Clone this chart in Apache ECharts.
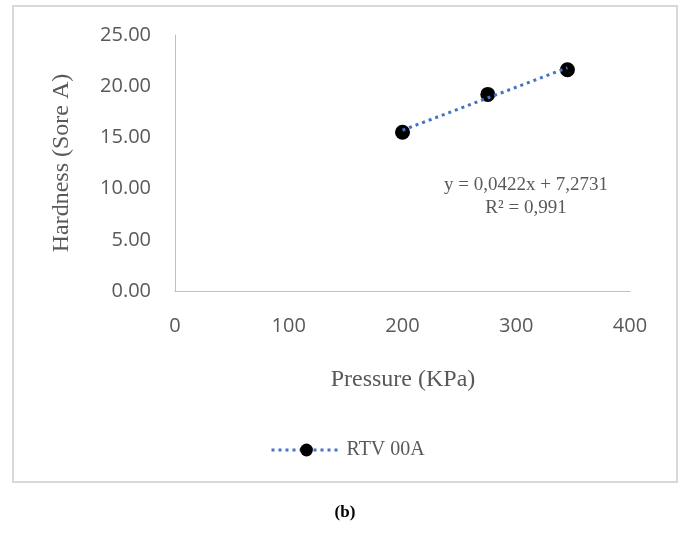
<!DOCTYPE html>
<html>
<head>
<meta charset="utf-8">
<script src="https://cdn.jsdelivr.net/npm/echarts@6/dist/echarts.min.js"></script>
<style>
  html, body { margin: 0; padding: 0; background: #fff; }
  #chart { width: 681px; height: 538px; }
</style>
</head>
<body>
<div id="chart"></div>
<script>
// measured points
var pressure = [200, 275, 345];
var hardness = [15.5, 19.2, 21.6];
// linear trendline end points
var trendX = [200, 345];
var trendY = [15.7, 21.8];
var seriesName = 'RTV 00A';
var equationLines = ['y = 0,0422x + 7,2731', 'R\u00b2 = 0,991'];

var gray = '#595959';
var blue = '#4472C4';

var myChart = echarts.init(document.getElementById('chart'));

var option = {
  animation: false,
  grid: { left: 175, top: 35, right: 51, bottom: 247 },
  xAxis: {
    type: 'value',
    min: 0, max: 400, interval: 100,
    axisLine: { show: true, lineStyle: { color: '#bfbfbf', width: 1 } },
    axisTick: { show: false },
    splitLine: { show: false },
    axisLabel: { margin: 25, color: gray, fontSize: 20, fontFamily: 'Open Sans' }
  },
  yAxis: {
    type: 'value',
    min: 0, max: 25, interval: 5,
    axisLine: { show: true, lineStyle: { color: '#bfbfbf', width: 1 } },
    axisTick: { show: false },
    splitLine: { show: false },
    axisLabel: {
      margin: 24, color: gray, fontSize: 20, fontFamily: 'Open Sans',
      formatter: function (v) { return v.toFixed(2); }
    }
  },
  legend: {
    left: 265, top: 435,
    itemWidth: 70, itemHeight: 16, itemGap: 10,
    textStyle: { color: gray, fontSize: 20, fontFamily: 'Liberation Serif' },
    data: [{
      name: seriesName,
      lineStyle: { color: blue, width: 3, type: [3, 4], opacity: 1 },
      itemStyle: { color: '#000' }
    }]
  },
  series: [
    {
      name: seriesName,
      type: 'line',
      data: pressure.map(function (p, i) { return [p, hardness[i]]; }),
      symbol: 'circle',
      symbolSize: 15,
      itemStyle: { color: '#000' },
      lineStyle: { width: 0, opacity: 0 },
      z: 2
    },
    {
      name: 'trend',
      type: 'line',
      data: trendX.map(function (p, i) { return [p, trendY[i]]; }),
      symbol: 'none',
      lineStyle: { color: blue, width: 3, type: [3, 4] },
      z: 3
    }
  ],
  graphic: [
    {
      type: 'rect', silent: true,
      shape: { x: 13, y: 6, width: 664, height: 476 },
      style: { fill: 'none', stroke: '#d9d9d9', lineWidth: 2 }
    },
    {
      type: 'text', x: 62, y: 163, rotation: Math.PI / 2,
      style: { text: 'Hardness (Sore A)', fill: gray, fontSize: 24, fontFamily: 'Liberation Serif', align: 'center', verticalAlign: 'middle' }
    },
    {
      type: 'text', x: 403, y: 380,
      style: { text: 'Pressure (KPa)', fill: gray, fontSize: 24, fontFamily: 'Liberation Serif', align: 'center', verticalAlign: 'middle' }
    },
    {
      type: 'text', x: 526, y: 185,
      style: { text: equationLines[0], fill: gray, fontSize: 19, fontFamily: 'Liberation Serif', align: 'center', verticalAlign: 'middle' }
    },
    {
      type: 'text', x: 526, y: 208,
      style: { text: equationLines[1], fill: gray, fontSize: 19, fontFamily: 'Liberation Serif', align: 'center', verticalAlign: 'middle' }
    },
    {
      type: 'text', x: 345, y: 513,
      style: { text: '(b)', fill: '#000', fontSize: 17, fontWeight: 'bold', fontFamily: 'Liberation Serif', align: 'center', verticalAlign: 'middle' }
    }
  ]
};

myChart.setOption(option);
</script>
</body>
</html>
